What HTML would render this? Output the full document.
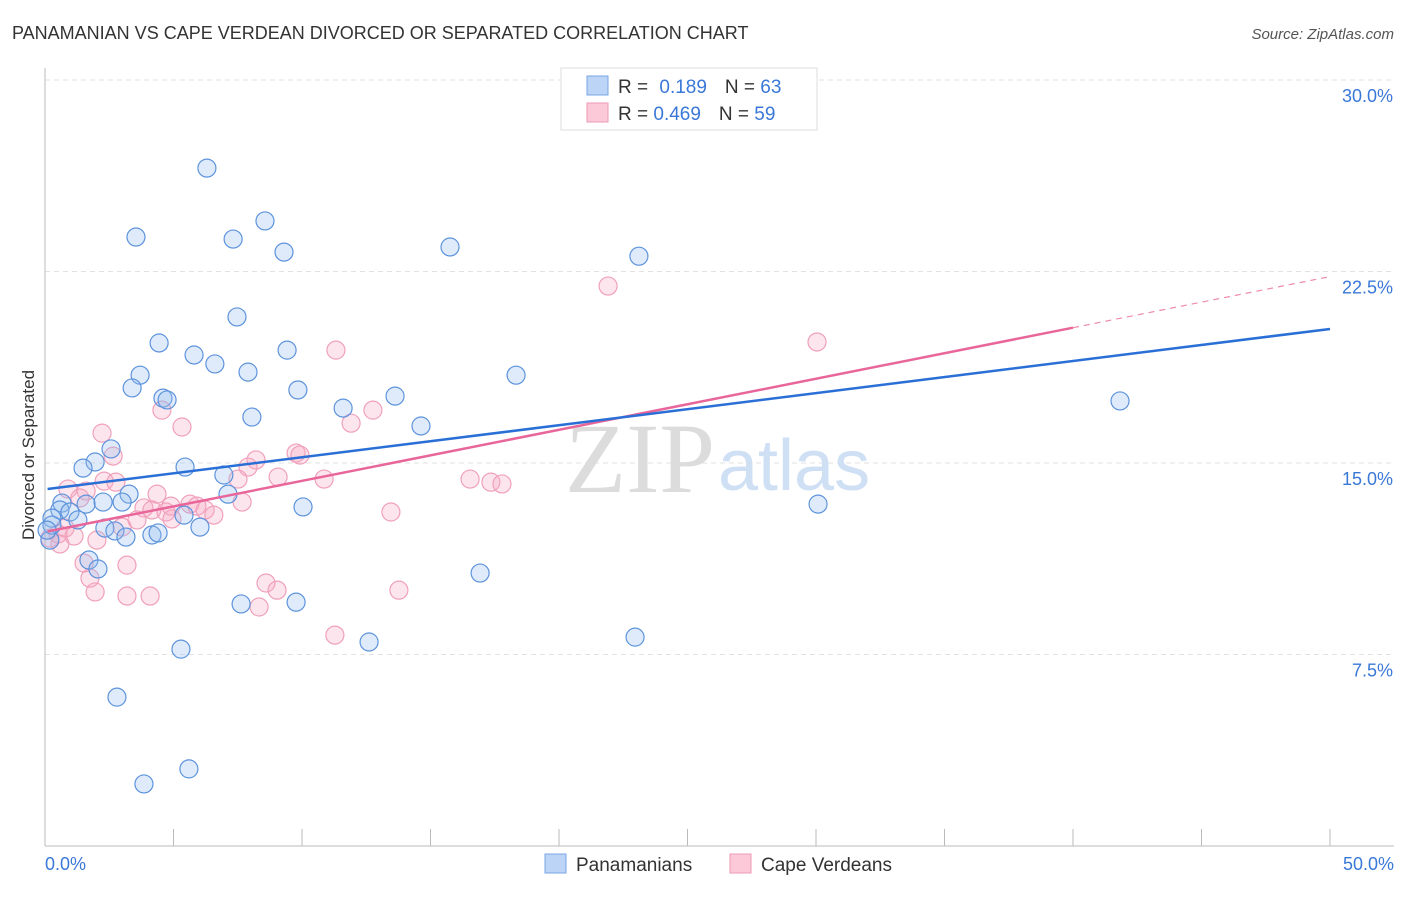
<!DOCTYPE html>
<html><head><meta charset="utf-8"><style>
body{margin:0;background:#fff;font-family:"Liberation Sans",sans-serif;}
</style></head><body>
<svg id="chart" width="1406" height="892" font-family="Liberation Sans, sans-serif">
<text x="12" y="39" font-size="18" fill="#333">PANAMANIAN VS CAPE VERDEAN DIVORCED OR SEPARATED CORRELATION CHART</text>
<text x="1394" y="39" font-size="15" fill="#555" font-style="italic" text-anchor="end">Source: ZipAtlas.com</text>
<text x="0" y="0" transform="translate(34,455) rotate(-90)" font-size="17" fill="#333" text-anchor="middle">Divorced or Separated</text>
<g id="grid"></g>
<text x="715" y="492" font-size="100" fill="#dcdcdc" text-anchor="end" style="font-family:'Liberation Serif',serif">ZIP</text>
<text x="718" y="490" font-size="72" fill="#cfe0f5">atlas</text>
<g id="pts"></g>
<g id="lines"></g>
<g>
<rect x="561" y="68" width="256" height="62" fill="#fff" stroke="#ddd"/>
<rect x="587" y="76" width="21" height="19" fill="#bcd4f5" stroke="#7aa6e6"/>
<rect x="587" y="103" width="21" height="19" fill="#fbc9d7" stroke="#ee9ab5"/>
<text x="618" y="93" font-size="19" fill="#333">R = <tspan fill="#3a78d8" dx="6">0.189</tspan><tspan dx="18" fill="#333">N = </tspan><tspan fill="#3a78d8">63</tspan></text>
<text x="618" y="120" font-size="19" fill="#333">R = <tspan fill="#3a78d8">0.469</tspan><tspan dx="18" fill="#333">N = </tspan><tspan fill="#3a78d8">59</tspan></text>
</g>
<g>
<rect x="545" y="854" width="21" height="19" fill="#bcd4f5" stroke="#7aa6e6"/>
<text x="576" y="871" font-size="19" fill="#333">Panamanians</text>
<rect x="730" y="854" width="21" height="19" fill="#fbc9d7" stroke="#ee9ab5"/>
<text x="761" y="871" font-size="19" fill="#333">Cape Verdeans</text>
</g>
</svg>
<script>
const yTicks=[7.5,15,22.5,30];
const yTickLabels=["7.5%","15.0%","22.5%","30.0%"];
const xTickCount=10;
const xLabels=["0.0%","50.0%"];
const blueX=[6.30,3.54,7.32,8.56,9.30,15.76,23.11,7.47,4.44,5.80,9.42,6.61,3.70,7.90,18.33,3.39,9.84,4.59,4.75,13.62,11.60,8.05,14.63,41.83,2.57,1.95,1.48,5.45,6.96,3.27,7.12,0.66,1.60,2.26,3.00,10.04,30.08,0.58,0.97,5.41,0.27,1.28,2.33,2.72,6.03,3.15,4.16,4.40,0.19,0.27,1.71,2.06,16.93,7.63,9.77,5.29,12.61,22.96,2.80,5.60,3.85,0.08];
const blueY=[26.55,23.85,23.77,24.48,23.26,23.46,23.10,20.72,19.70,19.23,19.42,18.88,18.44,18.56,18.44,17.94,17.86,17.54,17.47,17.62,17.15,16.80,16.45,17.43,15.55,15.04,14.80,14.84,14.53,13.78,13.78,13.43,13.39,13.47,13.47,13.28,13.39,13.16,13.08,12.96,12.84,12.77,12.45,12.34,12.49,12.10,12.18,12.26,11.98,12.57,11.20,10.85,10.69,9.48,9.55,7.71,7.99,8.18,5.83,3.02,2.43,12.37];
const pinkX=[21.91,30.04,11.32,4.55,12.76,5.33,11.91,2.22,2.65,8.21,9.77,9.92,7.90,9.07,10.86,16.54,17.35,17.78,7.51,2.30,2.76,0.89,1.60,1.36,4.36,4.90,5.64,5.91,3.85,4.16,6.23,7.67,4.71,13.46,6.57,3.58,4.94,3.00,0.78,0.51,1.13,0.19,0.58,2.02,1.52,3.19,1.75,8.60,9.03,1.95,3.19,4.09,13.77,8.33,11.28];
const pinkY=[21.93,19.74,19.42,17.07,17.07,16.41,16.56,16.17,15.27,15.12,15.39,15.31,14.84,14.45,14.37,14.37,14.25,14.18,14.37,14.29,14.25,13.98,13.90,13.63,13.78,13.31,13.39,13.31,13.24,13.16,13.16,13.47,13.08,13.08,12.96,12.77,12.81,12.49,12.45,12.22,12.14,12.06,11.83,11.98,11.08,11.00,10.49,10.30,10.02,9.95,9.79,9.79,10.02,9.36,8.26];
const blueTrend=[13.98,20.25];
const pinkTrend=[12.30,22.3];
const pinkSolidEnd=40;
const X0=45,X1=1330,Y0=846,YTOP=80;
const sx=v=>X0+(v/50)*(X1-X0);
const sy=v=>Y0-(v/30)*(Y0-YTOP);
const NS="http://www.w3.org/2000/svg";
function mk(t,a,p){const e=document.createElementNS(NS,t);for(const k in a)e.setAttribute(k,a[k]);p.appendChild(e);return e;}
const grid=document.getElementById('grid');
yTicks.forEach((t,i)=>{
 const l=mk('line',{x1:X0,x2:1394,y1:sy(t),y2:sy(t),stroke:'#e2e2e2','stroke-dasharray':'5,4'},grid);
 
 
 const tx=mk('text',{x:1393,y:sy(t)+22,'font-size':18,fill:'#3a78d8','text-anchor':'end'},grid);
 tx.textContent=yTickLabels[i];
 
 
});
const ax=mk('line',{x1:X0,x2:X0,y1:68,y2:Y0,stroke:'#bbb'},grid);


const bx=mk('line',{x1:X0,x2:1394,y1:Y0,y2:Y0,stroke:'#bbb'},grid);


for(let i=0;i<=xTickCount;i++){
 const tk=mk('line',{x1:sx(i*50/xTickCount),x2:sx(i*50/xTickCount),y1:829,y2:Y0,stroke:'#bbb'},grid);
 
 
}
[[0,'start',45],[50,'end',1394]].forEach((d,i)=>{
 const t=mk('text',{x:d[2],y:870,'font-size':18,fill:'#3a78d8','text-anchor':d[1]},grid);
 t.textContent=xLabels[i];
 
 
});
const pts=document.getElementById('pts');
pinkX.forEach((x,i)=>{
 const c=mk('circle',{cx:sx(x),cy:sy(pinkY[i]),r:9,fill:'rgba(248,170,195,0.3)',stroke:'#f0a0bb','stroke-width':1.2},pts);
 
 
});
blueX.forEach((x,i)=>{
 const c=mk('circle',{cx:sx(x),cy:sy(blueY[i]),r:9,fill:'rgba(150,190,240,0.3)',stroke:'#5d93dd','stroke-width':1.2},pts);
 
 
});
const lines=document.getElementById('lines');
const pAt=x=>pinkTrend[0]+(pinkTrend[1]-pinkTrend[0])*x/50;
const pd=mk('line',{x1:sx(pinkSolidEnd),y1:sy(pAt(pinkSolidEnd)),x2:sx(50),y2:sy(pinkTrend[1]),stroke:'#ee8aae','stroke-width':1.2,'stroke-dasharray':'6,5'},lines);


const pl=mk('line',{x1:sx(0.1),y1:sy(pAt(0.1)),x2:sx(pinkSolidEnd),y2:sy(pAt(pinkSolidEnd)),stroke:'#e8669a','stroke-width':2.5},lines);


const bl=mk('line',{x1:sx(0.1),y1:sy(blueTrend[0]),x2:sx(50),y2:sy(blueTrend[1]),stroke:'#2a6fd6','stroke-width':2.5},lines);


</script>
</body></html>
